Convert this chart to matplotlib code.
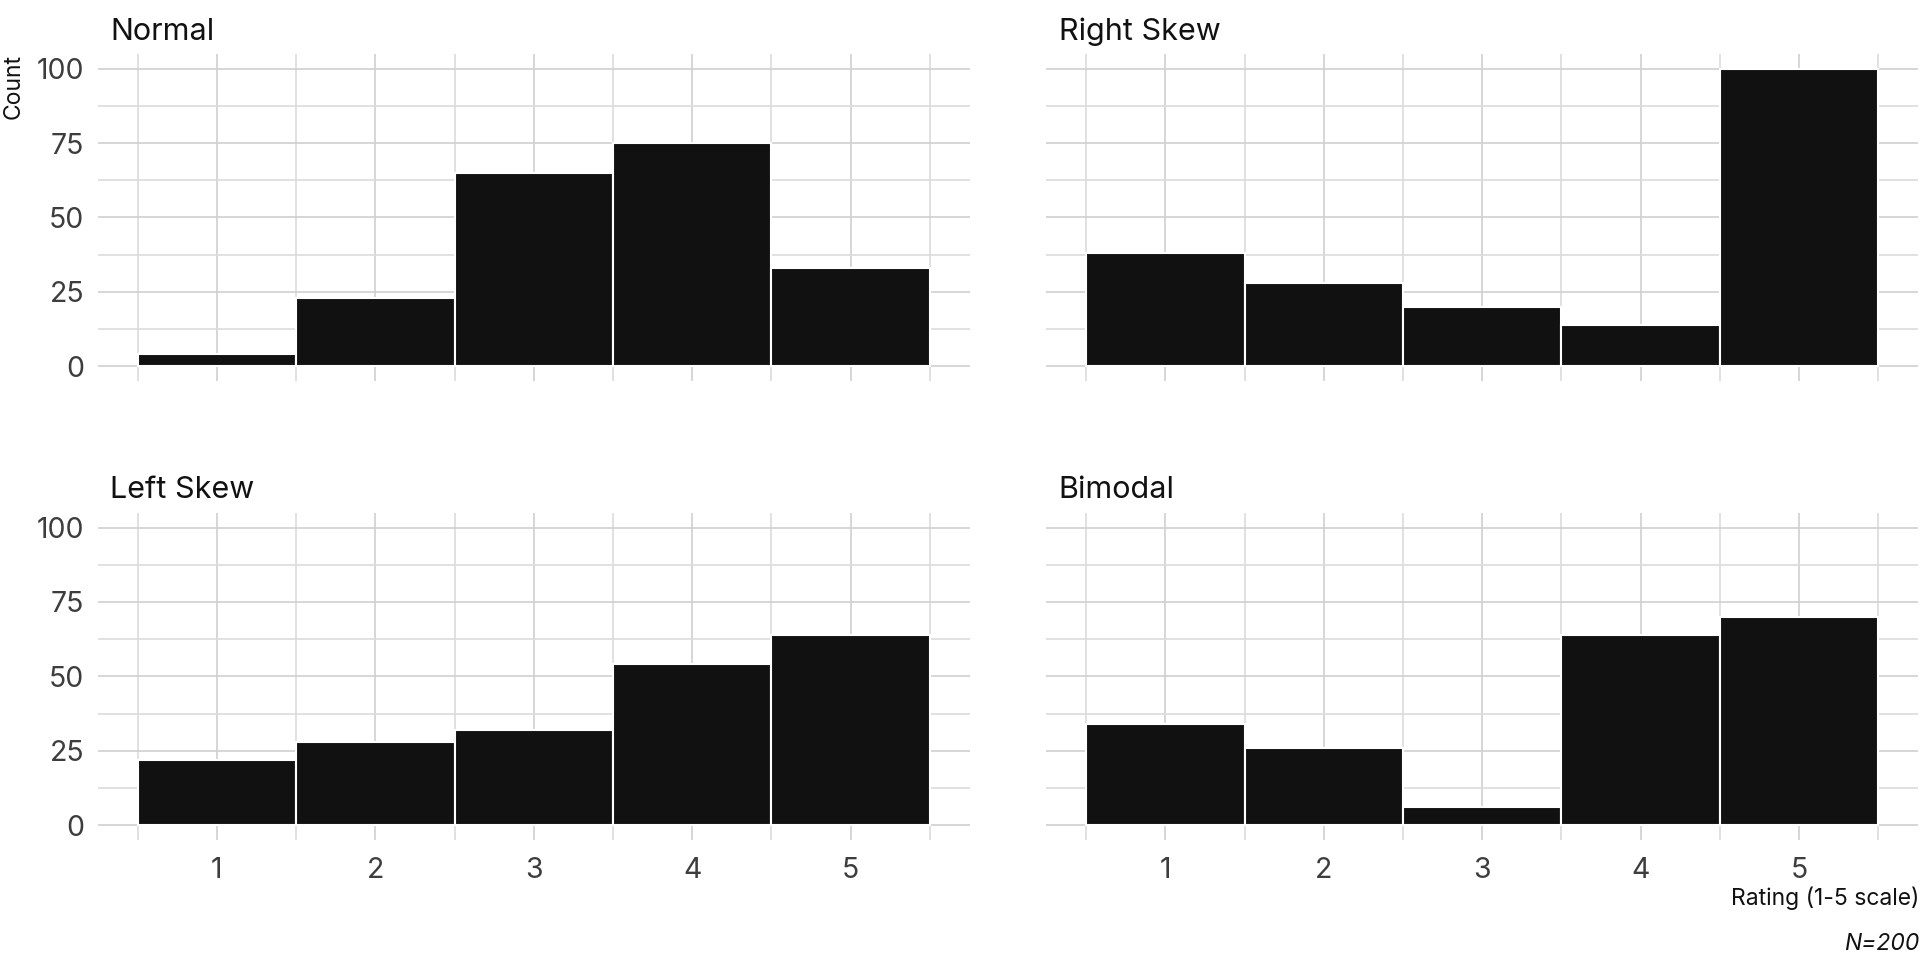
import matplotlib
matplotlib.use("Agg")
import matplotlib.pyplot as plt
from matplotlib.ticker import MultipleLocator

plt.rcParams['font.family'] = ['Inter', 'DejaVu Sans']

ratings = [1, 2, 3, 4, 5]
panel_titles = ["Normal", "Right Skew", "Left Skew", "Bimodal"]
normal = [4, 23, 65, 75, 33]
right_skew = [38, 28, 20, 14, 100]
left_skew = [22, 28, 32, 54, 64]
bimodal = [34, 26, 6, 64, 70]
series = [normal, right_skew, left_skew, bimodal]
y_ticks = [0, 25, 50, 75, 100]

fig = plt.figure(figsize=(19.2, 9.6), dpi=100)
fig.patch.set_facecolor("white")

lefts = [0.051, 0.545]
width = 0.454
bottoms = [0.603, 0.125]
height = 0.341

grid_col = "#d0d0d0"
minor_col = "#dcdcdc"

for i, (title, vals) in enumerate(zip(panel_titles, series)):
    r, c = divmod(i, 2)
    ax = fig.add_axes([lefts[c], bottoms[r], width, height])
    ax.set_xlim(0.25, 5.75)
    ax.set_ylim(-5, 105)
    ax.xaxis.set_major_locator(MultipleLocator(1))
    ax.xaxis.set_minor_locator(MultipleLocator(0.5))
    ax.set_yticks(y_ticks)
    ax.yaxis.set_minor_locator(MultipleLocator(12.5))
    ax.grid(True, which="major", color=grid_col, linewidth=1.2)
    ax.grid(True, which="minor", color=minor_col, linewidth=1.2)
    ax.set_axisbelow(True)
    for s in ax.spines.values():
        s.set_visible(False)
    ax.tick_params(which="both", length=0)
    ax.bar(ratings, vals, width=1.0, color="#111111", edgecolor="white",
           linewidth=1.5, zorder=2)
    ax.tick_params(axis="y", labelsize=20.5, labelcolor="#3d3d3d", pad=10)
    ax.tick_params(axis="x", labelsize=20.5, labelcolor="#3d3d3d", pad=12)
    ax.set_xticks(ratings)
    if r == 0:
        ax.set_xticklabels([])
    if c == 1:
        ax.set_yticklabels([])
    ax.text(0.014, 1.025, title, transform=ax.transAxes, fontsize=22,
            color="#111111", ha="left", va="bottom")

fig.text(0.0015, 0.944, "Count", rotation=90, ha="left", va="top",
         fontsize=16.5, color="#111111")
fig.text(0.9995, 0.064, "Rating (1-5 scale)", ha="right", va="center",
         fontsize=16.5, color="#111111")
fig.text(0.9995, 0.017, "N=200", ha="right", va="center",
         fontsize=16.5, style="italic", color="#111111")

fig.savefig("out.png", dpi=100, facecolor="white")
